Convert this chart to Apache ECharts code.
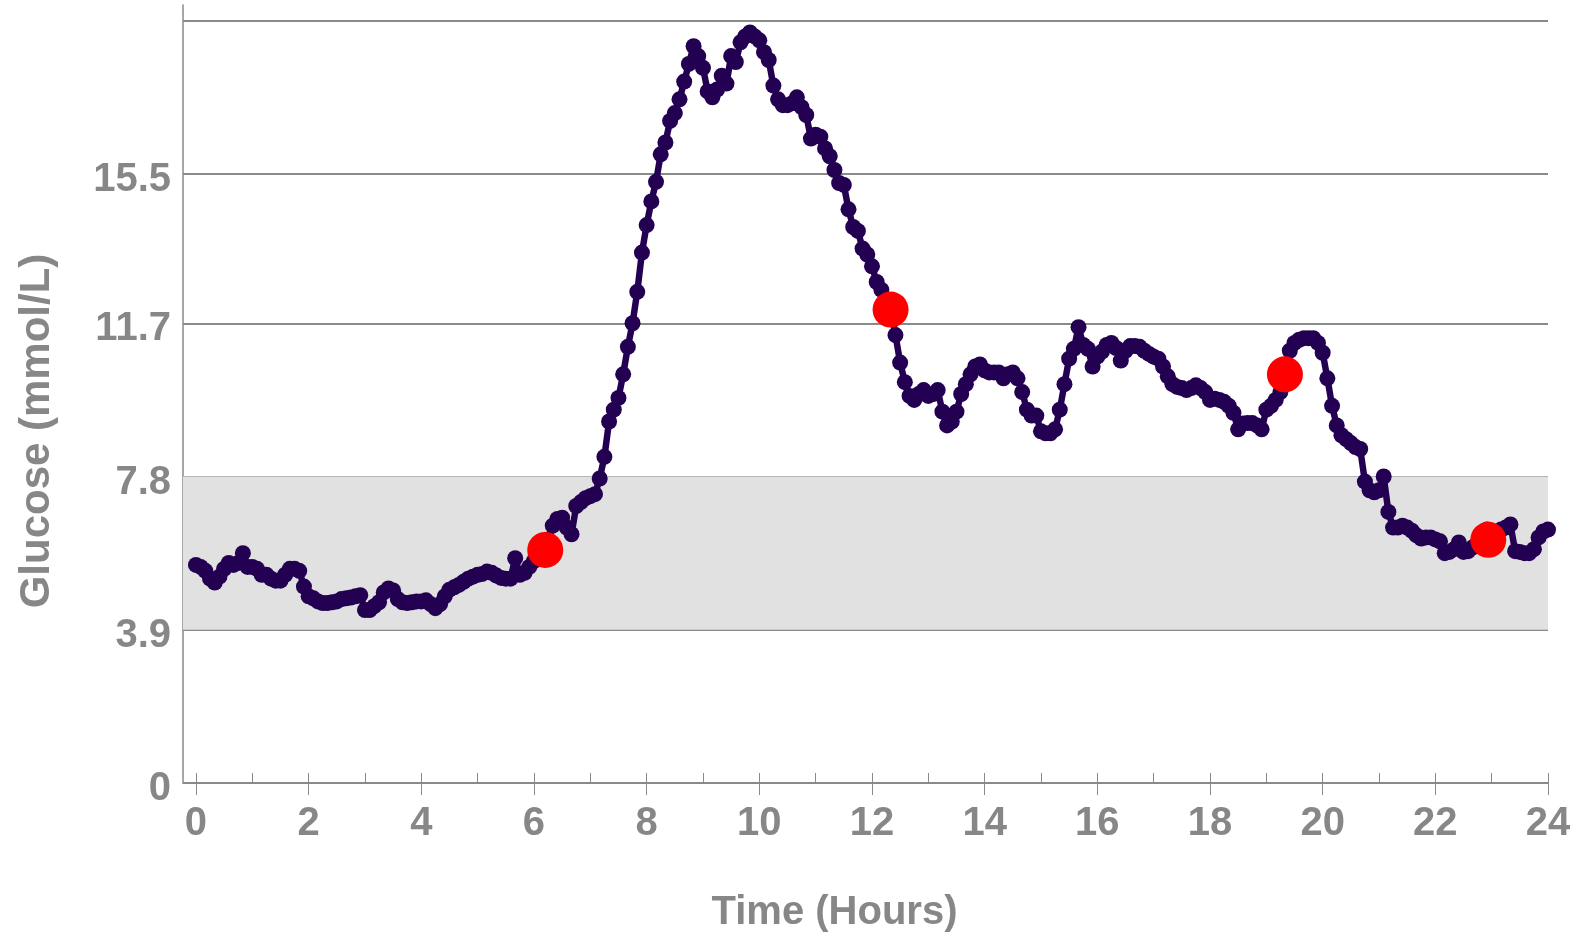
<!DOCTYPE html>
<html><head><meta charset="utf-8">
<script src="https://cdn.jsdelivr.net/npm/echarts@6/dist/echarts.min.js"></script>
<style>html,body{margin:0;padding:0;background:#fff;}#c{width:1581px;height:935px;}</style>
</head><body><div id="c"></div>
<script>
// CGM readings (mmol/L), one every 5 minutes from 0:00 to 24:00
const sampleMinutes = 5;
const glucose = [
  5.55, 5.5, 5.4, 5.2, 5.1, 5.25, 5.45, 5.6, 5.55, 5.6, 5.85, 5.5,
  5.5, 5.45, 5.3, 5.3, 5.2, 5.15, 5.15, 5.3, 5.45, 5.45, 5.4, 5.0,
  4.75, 4.7, 4.62, 4.58, 4.58, 4.6, 4.62, 4.68, 4.7, 4.72, 4.75, 4.78,
  4.4, 4.4, 4.5, 4.6, 4.85, 4.95, 4.9, 4.68, 4.6, 4.58, 4.6, 4.62,
  4.62, 4.65, 4.55, 4.45, 4.55, 4.75, 4.92, 4.98, 5.04, 5.12, 5.2, 5.25,
  5.3, 5.32, 5.38, 5.35, 5.28, 5.22, 5.2, 5.2, 5.72, 5.3, 5.35, 5.5,
  5.65, 5.75, 5.9, 6.2, 6.55, 6.72, 6.75, 6.5, 6.33, 7.05, 7.15, 7.25,
  7.3, 7.35, 7.75, 8.3, 9.2, 9.5, 9.8, 10.4, 11.1, 11.7, 12.5, 13.5,
  14.2, 14.8, 15.3, 16.0, 16.3, 16.85, 17.05, 17.4, 17.85, 18.3, 18.75, 18.5,
  18.2, 17.6, 17.45, 17.65, 18.0, 17.8, 18.5, 18.35, 18.85, 19.0, 19.1, 19.0,
  18.9, 18.6, 18.4, 17.75, 17.4, 17.25, 17.25, 17.3, 17.45, 17.2, 17.0, 16.4,
  16.5, 16.45, 16.15, 15.95, 15.6, 15.27, 15.22, 14.6, 14.15, 14.05, 13.6, 13.45,
  13.15, 12.75, 12.55, 12.3, 12.05, 11.4, 10.7, 10.2, 9.85, 9.75, 9.9, 10.0,
  9.85, 9.9, 10.0, 9.45, 9.1, 9.2, 9.45, 9.9, 10.15, 10.4, 10.6, 10.65,
  10.5, 10.45, 10.45, 10.45, 10.3, 10.4, 10.45, 10.3, 9.95, 9.5, 9.35, 9.35,
  8.95, 8.9, 8.9, 9.0, 9.5, 10.15, 10.8, 11.05, 11.6, 11.15, 11.05, 10.6,
  10.85, 10.98, 11.15, 11.2, 11.07, 10.75, 11.0, 11.12, 11.12, 11.1, 11.0, 10.92,
  10.85, 10.8, 10.6, 10.35, 10.15, 10.08, 10.05, 10.0, 10.05, 10.12, 10.05, 9.95,
  9.75, 9.78, 9.75, 9.7, 9.6, 9.42, 9.0, 9.15, 9.16, 9.16, 9.1, 9.0,
  9.5, 9.6, 9.75, 9.95, 10.4, 11.0, 11.2, 11.28, 11.32, 11.32, 11.32, 11.2,
  10.95, 10.3, 9.6, 9.1, 8.85, 8.75, 8.65, 8.55, 8.5, 7.67, 7.45, 7.4,
  7.45, 7.8, 6.9, 6.5, 6.5, 6.55, 6.5, 6.42, 6.3, 6.22, 6.25, 6.25,
  6.2, 6.15, 5.85, 5.88, 5.95, 6.12, 5.88, 5.9, 6.0, 6.1, 6.3, 6.45,
  6.3, 6.35, 6.45, 6.5, 6.58, 5.9, 5.88, 5.85, 5.85, 5.95, 6.25, 6.4,
  6.45
];
// highlighted events (hours, mmol/L)
const eventTimes = [6.2, 12.33, 19.33, 22.94];
const eventValues = [5.93, 12.05, 10.4, 6.19];
// axes
const yTickValues = [0, 3.9, 7.8, 11.7, 15.5, 19.4];
const yLabelValues = [0, 3.9, 7.8, 11.7, 15.5];
const xMajorTicks = [0, 2, 4, 6, 8, 10, 12, 14, 16, 18, 20, 22, 24];
const xMinorTicks = [0, 1, 2, 3, 4, 5, 6, 7, 8, 9, 10, 11, 12, 13, 14, 15, 16, 17, 18, 19, 20, 21, 22, 23, 24];
const targetRange = [3.9, 7.8];

const lineData = glucose.map((v, i) => [i * sampleMinutes / 60, v]);
const eventData = eventTimes.map((t, i) => [t, eventValues[i]]);

const FONT = "'Liberation Sans', Arial, sans-serif";
const TXT = '#878787';
const GRID = '#8a8a8a';
const PURPLE = '#230052';

const chart = echarts.init(document.getElementById('c'), null, {renderer: 'canvas'});
chart.setOption({
  animation: false,
  backgroundColor: '#fff',
  grid: {left: 183, right: 33, top: 5, bottom: 152, containLabel: false, outerBoundsMode: 'none'},
  xAxis: [
    {
      type: 'value', min: -0.23, max: 24,
      axisLine: {show: true, onZero: false, lineStyle: {color: GRID, width: 1.5}},
      axisTick: {show: true, inside: true, length: 10, customValues: xMinorTicks, lineStyle: {color: GRID, width: 1}},
      axisLabel: {show: false},
      splitLine: {show: false}
    },
    {
      type: 'value', min: -0.23, max: 24, position: 'bottom', gridIndex: 0,
      axisLine: {show: false, onZero: false},
      axisTick: {show: true, inside: false, length: 12, customValues: xMajorTicks, lineStyle: {color: GRID, width: 1}},
      axisLabel: {show: true, customValues: xMajorTicks, margin: 21, fontFamily: FONT, fontWeight: 'bold', fontSize: 40, color: TXT},
      splitLine: {show: false},
      name: 'Time (Hours)', nameLocation: 'middle', nameGap: 110,
      nameTextStyle: {fontFamily: FONT, fontWeight: 'bold', fontSize: 40, color: TXT, padding: [0, 62, 0, 0]}
    }
  ],
  yAxis: {
    type: 'value', min: 0, max: 19.8,
    axisLine: {show: true, onZero: false, lineStyle: {color: GRID, width: 1.5}},
    axisTick: {show: false, customValues: yTickValues},
    axisLabel: {show: true, customValues: yLabelValues, margin: 12, fontFamily: FONT, fontWeight: 'bold', fontSize: 40, color: TXT, verticalAlign: 'top', lineHeight: 12},
    splitLine: {show: true, lineStyle: {color: GRID, width: 2}},
    name: 'Glucose (mmol/L)', nameLocation: 'middle', nameGap: 125,
    nameTextStyle: {fontFamily: FONT, fontWeight: 'bold', fontSize: 42, color: TXT, padding: [0, 74, 0, 0]}
  },
  series: [
    {
      type: 'line', data: [], z: -1, silent: true,
      markArea: {silent: true, itemStyle: {color: '#e1e1e1'},
        data: [[{yAxis: targetRange[0]}, {yAxis: targetRange[1]}]]}
    },
    {
      type: 'line', data: lineData, xAxisIndex: 0,
      showSymbol: true, symbol: 'circle', symbolSize: 16,
      lineStyle: {color: PURPLE, width: 6.5},
      itemStyle: {color: PURPLE, opacity: 1},
      z: 3
    },
    {
      type: 'scatter', data: eventData, xAxisIndex: 0,
      symbol: 'circle', symbolSize: 36,
      itemStyle: {color: '#ff0000', opacity: 1},
      z: 4
    }
  ]
});
</script>
</body></html>
